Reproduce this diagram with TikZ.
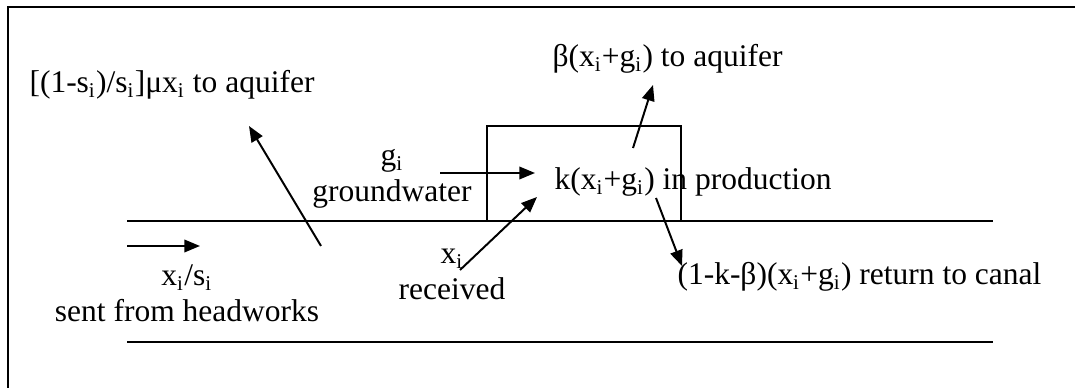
\documentclass[tikz,border=0pt]{standalone}
\usepackage{fontspec}
\setmainfont{Liberation Serif}
\usetikzlibrary{arrows.meta, positioning}
\newcommand{\subi}{\textsubscript{i}}

\begin{document}
\begin{tikzpicture}[
    x=0.381pt, y=-0.381pt,
    >={Triangle[length=6pt, width=4.8pt]},
    flow/.style={->, line width=0.75pt},
    bank/.style={line width=0.65pt},
    lbl/.style={inner sep=0pt, font=\fontsize{12}{13.8}\selectfont},
    twolbl/.style={lbl, align=center, anchor=base},
    farmbox/.style={draw, line width=0.6pt, minimum width=73.9pt, minimum height=36.2pt, inner sep=0pt},
]
\useasboundingbox (0,0) rectangle (1075,388);

% Outer frame (cut off at right and bottom)
\draw[line width=0.9pt] (1075,7) -- (8,7) -- (8,388);

% Canal banks
\coordinate (bankUL) at (127,221);
\coordinate (bankUR) at (993,221);
\coordinate (bankLL) at (127,342);
\coordinate (bankLR) at (993,342);
\draw[bank] (bankUL) -- (bankUR);
\draw[bank] (bankLL) -- (bankLR);

% Farm plot
\node[farmbox] (farm) at (584,173.5) {};

% Labels
\node[lbl, anchor=base west] (seep) at (29,93) {[(1-s\subi)/s\subi]μx\subi{} to aquifer};
\node[lbl, anchor=base west] (perc) at (552,67) {β(x\subi+g\subi) to aquifer};
\node[lbl, anchor=base west] (prod) at (554,190) {k(x\subi+g\subi) in production};
\node[lbl, anchor=base west] (ret) at (677,285) {(1-k-β)(x\subi+g\subi) return to canal};
\node[twolbl] (gw) at (392,202) {g\subi\\groundwater};
\node[twolbl] (recv) at (452,300) {x\subi\\received};
\node[twolbl] (sent) at (187,322) {x\subi/s\subi\\sent from headworks};

% Flow arrows
\coordinate (seepA) at (321,246);
\coordinate (seepB) at (249,126);
\coordinate (percA) at (633,148);
\coordinate (percB) at (653,85);
\coordinate (gwA) at (440,173);
\coordinate (gwB) at (535,173);
\coordinate (recvA) at (460,270);
\coordinate (recvB) at (537,197);
\coordinate (retA) at (656,198);
\coordinate (retB) at (682,266);
\coordinate (sentA) at (127,246);
\coordinate (sentB) at (200,246);

\draw[flow] (seepA) -- (seepB);
\draw[flow] (percA) -- (percB);
\draw[flow] (gwA) -- (gwB);
\draw[flow] (recvA) -- (recvB);
\draw[flow] (retA) -- (retB);
\draw[flow] (sentA) -- (sentB);

\end{tikzpicture}
\end{document}
